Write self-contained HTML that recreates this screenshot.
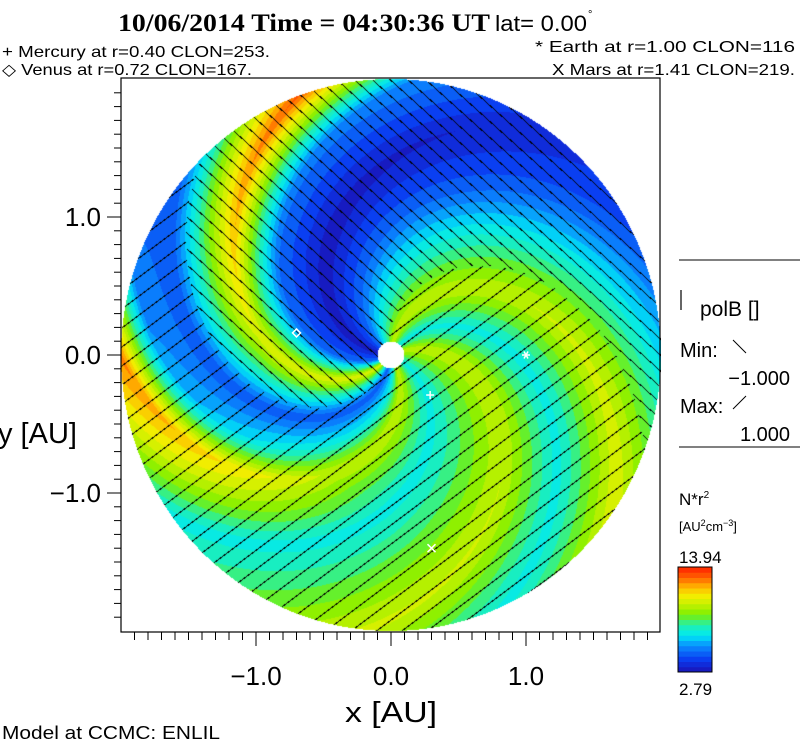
<!DOCTYPE html>
<html><head><meta charset="utf-8"><style>
body{margin:0;background:#fff;}
#wrap{position:relative;width:800px;height:746px;overflow:hidden;background:#fff;font-family:"Liberation Sans",sans-serif;}
#field{position:absolute;left:121px;top:78px;}
#ov{position:absolute;left:0;top:0;}
text{font-family:"Liberation Sans",sans-serif;fill:#000;}
</style></head><body>
<div id="wrap">
<canvas id="field" width="540" height="555"></canvas>
<svg id="ov" width="800" height="746">
<text x="118" y="31" textLength="372" lengthAdjust="spacingAndGlyphs" style="font-family:'Liberation Serif',serif;font-weight:bold;font-size:25px">10/06/2014 Time = 04:30:36 UT</text>
<text x="495" y="31" textLength="92" lengthAdjust="spacingAndGlyphs" font-size="22">lat= 0.00</text>
<text x="588" y="18" font-size="11">°</text>
<text x="2" y="57" font-size="16" textLength="268" lengthAdjust="spacingAndGlyphs">+ Mercury at r=0.40 CLON=253.</text>
<text x="2" y="75" font-size="16" textLength="250" lengthAdjust="spacingAndGlyphs">◇ Venus at r=0.72 CLON=167.</text>
<text x="535" y="52" font-size="16" textLength="260" lengthAdjust="spacingAndGlyphs">* Earth at  r=1.00 CLON=116</text>
<text x="552" y="75" font-size="16" textLength="243" lengthAdjust="spacingAndGlyphs">X Mars at r=1.41 CLON=219.</text>
<rect x="121" y="78" width="539" height="554" fill="none" stroke="#000" stroke-width="1.2"/>
<g id="ticks"></g>
<g id="marks"></g>
<text x="345" y="722" font-size="29" textLength="92" lengthAdjust="spacingAndGlyphs">x [AU]</text>
<text x="-2" y="443" font-size="29">y [AU]</text>
<text x="2" y="739" font-size="18" textLength="218" lengthAdjust="spacingAndGlyphs">Model at CCMC: ENLIL</text>
<line x1="679" y1="260" x2="800" y2="260" stroke="#000"/>
<line x1="681" y1="290" x2="681" y2="310" stroke="#000" stroke-width="1.2"/>
<text x="700" y="316" font-size="21">polB []</text>
<text x="680" y="357" font-size="20">Min:</text>
<line x1="733" y1="340" x2="746" y2="353" stroke="#000"/>
<text x="790" y="385" font-size="20" text-anchor="end">−1.000</text>
<text x="680" y="413" font-size="20">Max:</text>
<line x1="733" y1="409" x2="746" y2="396" stroke="#000"/>
<text x="790" y="441" font-size="20" text-anchor="end">1.000</text>
<line x1="679" y1="447" x2="800" y2="447" stroke="#000"/>
<text x="679" y="505" font-size="17">N*r<tspan dy="-7" font-size="10">2</tspan></text>
<text x="679" y="531" font-size="13">[AU<tspan dy="-5" font-size="9">2</tspan><tspan dy="5">cm</tspan><tspan dy="-5" font-size="9">−3</tspan><tspan dy="5">]</tspan></text>
<text x="679" y="563" font-size="17">13.94</text>
<g id="cbar"></g>
<text x="679" y="695" font-size="17">2.79</text>
</svg>
</div>
<script>
// density profile vs spiral phase (deg), at r≈1 AU and r≈2 AU
const phaseDeg   = [0, 25, 55, 85, 120, 145, 175, 205, 230, 262, 282, 300, 335, 360];
const densInner  = [8.5, 10, 7, 10, 7.2, 5, 3, 5, 10.5, 4.6, 7, 10, 7, 8.5];
const densOuter  = [8.5, 10.2, 7, 10.5, 6.5, 4.5, 3.5, 5.5, 13, 4.6, 5.2, 12.5, 7, 8.5];
const polBoundaries = [100, 255]; // negative polarity between these phases
const windingDegPerAU = 60;
const dMin = 2.79, dMax = 13.94, nLevels = 20;
const tickVals = [-1.0, 0.0, 1.0];
const tickLabels = ["−1.0", "0.0", "1.0"];
const planetNames = ["Mercury", "Venus", "Earth", "Mars"];
const planetX = [0.29, -0.70, 1.00, 0.30];
const planetY = [-0.29, 0.16, 0.00, -1.40];
const cmapT = [0, 0.12, 0.25, 0.35, 0.45, 0.55, 0.65, 0.72, 0.8, 0.9, 1.0];
const cmapC = ["#1a12b4","#0a3cf0","#0a8cff","#00e8f4","#20f0b0","#7cf000","#c8f000","#f0f000","#ffc000","#ff6400","#ff2000"];

const CX = 391, CY = 355, SX = 135, SY = 138;
const xs = v => CX + v * SX, ys = v => CY - v * SY;
const NS = "http://www.w3.org/2000/svg";

function hex(c){return [parseInt(c.slice(1,3),16),parseInt(c.slice(3,5),16),parseInt(c.slice(5,7),16)];}
function cmap(t){
  t=Math.max(0,Math.min(1,t));
  for(let i=1;i<cmapT.length;i++){ if(t<=cmapT[i]){ const a=hex(cmapC[i-1]),b=hex(cmapC[i]); const f=(t-cmapT[i-1])/(cmapT[i]-cmapT[i-1]); return a.map((v,k)=>Math.round(v+(b[k]-v)*f)); } }
  return hex(cmapC[cmapC.length-1]);
}
function interp(arr, p){
  for(let i=1;i<phaseDeg.length;i++){ if(p<=phaseDeg[i]){ const f=(p-phaseDeg[i-1])/(phaseDeg[i]-phaseDeg[i-1]); return arr[i-1]+(arr[i]-arr[i-1])*f; } }
  return arr[arr.length-1];
}
// field
const cv=document.getElementById('field'), ctx=cv.getContext('2d');
const W=cv.width,H=cv.height, img=ctx.createImageData(W,H);
for(let py=0;py<H;py++){ for(let px=0;px<W;px++){
  const X=(px+121+0.5-CX)/SX, Y=(CY-(py+78+0.5))/SY, r=Math.hypot(X,Y);
  if(r>2.0) continue;
  const dx=(px+121+0.5-CX), dy=(py+78+0.5-CY);
  if(dx*dx+dy*dy<13.5*13.5){ const o=(py*W+px)*4; img.data[o]=img.data[o+1]=img.data[o+2]=img.data[o+3]=255; continue; }
  let th=Math.atan2(Y,X)*180/Math.PI;
  let psi=((th+windingDegPerAU*r)%360+360)%360;
  const wOut=Math.max(0,Math.min(1,(r-1)/1));
  const d=interp(densInner,psi)*(1-wOut)+interp(densOuter,psi)*wOut;
  let t=(d-dMin)/(dMax-dMin); t=Math.floor(t*nLevels)/nLevels+0.5/nLevels;
  let c=cmap(t);
  const neg=psi>polBoundaries[0]&&psi<polBoundaries[1];
  const sx=px+121, sy=py+78;
  const m = neg ? (((sy-0.9*sx)%16)+16)%16 : (((sy+0.75*sx)%19)+19)%19;
  if(m<1.1) c=[0,0,0];
  const o=(py*W+px)*4; img.data[o]=c[0];img.data[o+1]=c[1];img.data[o+2]=c[2];img.data[o+3]=255;
}}
ctx.putImageData(img,0,0);
// ticks
const tg=document.getElementById('ticks');
function ln(g,x1,y1,x2,y2,w){const l=document.createElementNS(NS,'line');l.setAttribute('x1',x1);l.setAttribute('y1',y1);l.setAttribute('x2',x2);l.setAttribute('y2',y2);l.setAttribute('stroke','#000');l.setAttribute('stroke-width',w||1);g.appendChild(l);return l;}
for(let i=-19;i<=19;i++){
  const v=i/10, major=(i%10===0);
  const x=xs(v); if(x>121&&x<660){ const l=ln(tg,x,632,x,major?646:640);
    
     }
  const y=ys(v); if(y>78&&y<632){ const l=ln(tg,121,y,major?107:114,y);
    
     }
}
tickVals.forEach((v,i)=>{
  const t1=document.createElementNS(NS,'text');t1.setAttribute('x',xs(v));t1.setAttribute('y',685);t1.setAttribute('font-size','26');t1.setAttribute('text-anchor','middle');t1.textContent=tickLabels[i];
  
  
  tg.appendChild(t1);
  const t2=document.createElementNS(NS,'text');t2.setAttribute('x',101);t2.setAttribute('y',ys(v)+9);t2.setAttribute('font-size','26');t2.setAttribute('text-anchor','end');t2.textContent=tickLabels[i];
  
  
  tg.appendChild(t2);
});
// planets
const mg=document.getElementById('marks');
planetNames.forEach((n,i)=>{
  const x=xs(planetX[i]), y=ys(planetY[i]); const g=document.createElementNS(NS,'g');
  
  
  mg.appendChild(g);
  const s=4;
  if(n==='Mercury'){ln(g,x-s,y,x+s,y,1.5).setAttribute('stroke','#fff');ln(g,x,y-s,x,y+s,1.5).setAttribute('stroke','#fff');}
  else if(n==='Venus'){const p=document.createElementNS(NS,'polygon');p.setAttribute('points',`${x},${y-s} ${x+s},${y} ${x},${y+s} ${x-s},${y}`);p.setAttribute('fill','none');p.setAttribute('stroke','#fff');p.setAttribute('stroke-width','1.5');g.appendChild(p);}
  else if(n==='Earth'){[0,60,120].forEach(a=>{const c=Math.cos(a*Math.PI/180)*s,d=Math.sin(a*Math.PI/180)*s;ln(g,x-c,y-d,x+c,y+d,1.5).setAttribute('stroke','#fff');});}
  else {ln(g,x-s,y-s,x+s,y+s,1.5).setAttribute('stroke','#fff');ln(g,x-s,y+s,x+s,y-s,1.5).setAttribute('stroke','#fff');}
});
// colorbar
const cb=document.getElementById('cbar'); const cbTop=567, cbBot=672, cbX=678, cbW=34;
for(let i=0;i<nLevels;i++){
  const c=cmap((i+0.5)/nLevels); const h=(cbBot-cbTop)/nLevels;
  const r=document.createElementNS(NS,'rect');r.setAttribute('x',cbX);r.setAttribute('y',cbBot-(i+1)*h);r.setAttribute('width',cbW);r.setAttribute('height',h+0.5);r.setAttribute('fill',`rgb(${c[0]},${c[1]},${c[2]})`);
  
  
  cb.appendChild(r);
}
const fr=document.createElementNS(NS,'rect');fr.setAttribute('x',cbX);fr.setAttribute('y',cbTop);fr.setAttribute('width',cbW);fr.setAttribute('height',cbBot-cbTop);fr.setAttribute('fill','none');fr.setAttribute('stroke','#000');


cb.appendChild(fr);
</script>
</body></html>
